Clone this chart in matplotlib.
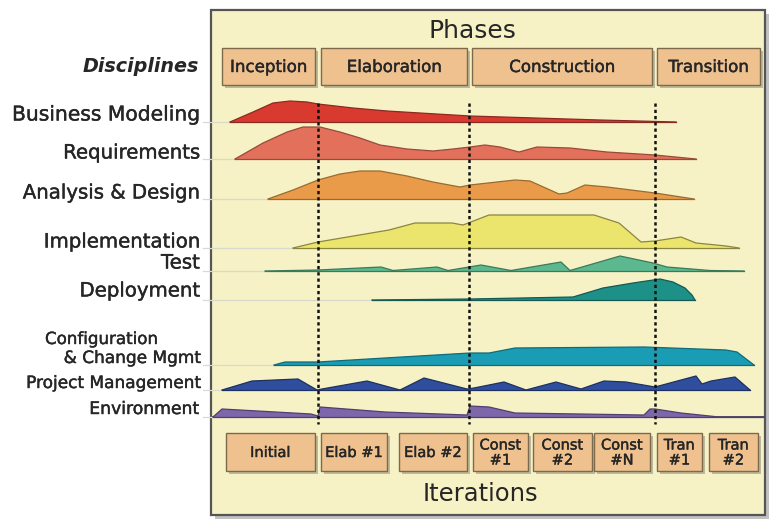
import matplotlib
matplotlib.use("Agg")
import matplotlib.pyplot as plt
from matplotlib.patches import Rectangle
import matplotlib.patheffects as pe

# ---------------- data ----------------
disciplines = ["Business Modeling", "Requirements", "Analysis & Design",
               "Implementation", "Test", "Deployment",
               "Configuration & Change Mgmt", "Project Management", "Environment"]

# effort profiles: time (timeline units) and effort (relative height)
bm_t = [15, 38, 58, 75, 92, 103, 138, 172, 205, 255, 385, 461]
bm_e = [0, 10, 19, 21, 20, 18, 14, 11, 9, 6, 2, 0]

req_t = [20, 48, 72, 88, 105, 125, 145, 165, 192, 218, 238, 255, 270, 285, 304, 322,
         355, 392, 440, 481]
req_e = [0, 16, 27, 32, 32, 27, 21, 14, 10, 8, 10, 12, 14, 12, 7, 12, 11, 7, 4, 0]

ad_t = [53, 78, 103, 125, 145, 165, 192, 218, 245, 255, 300, 315, 344, 352, 370, 392,
        440, 479]
ad_e = [0, 9, 19, 25, 28, 28, 23, 17, 12, 14, 19, 18, 5, 6, 14, 12, 6, 0]

impl_t = [78, 103, 174, 200, 237, 248, 274, 379, 404, 426, 440, 466, 481, 511, 524]
impl_e = [0, 6, 18, 25, 25, 23, 33, 33, 25, 6, 7, 11, 5, 2, 0]

test_t = [50, 103, 166, 178, 222, 233, 266, 296, 346, 355, 405, 438, 452, 495, 529]
test_e = [0, 1, 4, 0.5, 4, 0.5, 6, 0.5, 9, 0.5, 15, 8, 4, 0.5, 0]

dep_t = [157, 255, 358, 388, 418, 445, 458, 470, 477, 480]
dep_e = [0, 1, 3, 12, 17, 21, 18, 12, 5, 0]

cfg_t = [59, 70, 103, 170, 255, 274, 300, 429, 511, 522, 539]
cfg_e = [0, 3, 3, 7, 12, 12, 17, 18, 15, 13, 0]

pm_t = [7, 37, 83, 102, 107, 152, 185, 209, 252, 259, 289, 311, 341, 366, 389, 411,
        440, 481, 487, 496, 520, 535]
pm_e = [0, 9, 11, 0, 1, 9, 0, 12, 1, 2, 8, 0, 8, 1, 9, 8, 3, 14, 6, 9, 13, 0]

env_t = [-2, 7, 96, 103, 105, 170, 252, 255, 274, 300, 429, 435, 440, 466, 504, 550]
env_e = [0, 8, 3, 1, 10, 5, 2, 11, 10, 4, 2, 8, 8, 4, 0, 0]

series_t = [bm_t, req_t, ad_t, impl_t, test_t, dep_t, cfg_t, pm_t, env_t]
series_e = [bm_e, req_e, ad_e, impl_e, test_e, dep_e, cfg_e, pm_e, env_e]

phases = ["Inception", "Elaboration", "Construction", "Transition"]
phase_boundaries = [103, 254, 440]
iterations = ["Initial", "Elab #1", "Elab #2", "Const\n#1", "Const\n#2", "Const\n#N",
              "Tran\n#1", "Tran\n#2"]

# ---------------- styles / layout ----------------
fills = ["#d93a2f", "#e2705a", "#e99b4a", "#ece56d", "#5cb88e", "#1d9088",
         "#1a9db4", "#2f4f9e", "#7e66ab"]
edges = ["#8a2a22", "#9a4a3a", "#9a6a30", "#8a8640", "#3a7a5a", "#135a55",
         "#106a7a", "#1d3060", "#4e3f70"]
baselines = [122, 159, 199, 248, 271, 300, 365, 390, 417]
label_y = [115, 153, 193, 242, 263, 291, None, 383, 409]
label_fs = [14.6, 14.2, 14.2, 14.2, 14.2, 14.2, None, 12.2, 12.4]

panel_bg = "#f6f2c6"
box_fc = "#efc18f"
box_ec = "#7d6a4c"
txt = "#262626"
semi = [pe.withStroke(linewidth=0.3, foreground=txt)]

W, H = 782, 531
fig = plt.figure(figsize=(W / 100, H / 100), dpi=100)
fig.patch.set_facecolor("white")

ax = fig.add_axes([0, 0, 1, 1])
ax.set_xlim(0, W)
ax.set_ylim(H, 0)
ax.axis("off")

# panel with shadow
ax.add_patch(Rectangle((215, 14), 554, 505, fc="#9a9a9a", ec="none", alpha=0.6, zorder=0))
ax.add_patch(Rectangle((211, 10), 554, 505, fc=panel_bg, ec="#555555", lw=1.6, zorder=1))
ax.plot([211, 765], [417, 417], color="#555555", lw=1.3, zorder=1)

def box(x0, x1, y0, y1, label, fs):
    ax.add_patch(Rectangle((x0 + 3, y0 + 3), x1 - x0, y1 - y0, fc="#8c8c7a",
                           ec="none", alpha=0.55, zorder=2))
    ax.add_patch(Rectangle((x0, y0), x1 - x0, y1 - y0, fc=box_fc, ec=box_ec,
                           lw=1.0, zorder=3))
    ax.text((x0 + x1) / 2, (y0 + y1) / 2 + 0.5, label, ha="center", va="center",
            fontsize=fs, color=txt, zorder=4, linespacing=1.0, path_effects=semi)

phase_boxes = [(222, 315), (321, 467), (472, 652), (657, 760)]
for (x0, x1), name in zip(phase_boxes, phases):
    box(x0, x1, 48, 85, name, 12)

iter_boxes = [(226, 315), (321, 387), (399, 467), (473, 528), (533, 592), (594, 650),
              (657, 702), (709, 758)]
for (x0, x1), name in zip(iter_boxes, iterations):
    box(x0, x1, 433, 471, name, 10.5)

ax.text(472, 31, "Phases", ha="center", va="center", fontsize=18, color=txt)
ax.text(480, 494, "Iterations", ha="center", va="center", fontsize=17.5, color=txt)

# discipline labels
ax.text(199, 67, "Disciplines", ha="right", va="center", fontsize=13.8,
        fontweight="bold", fontstyle="italic", color=txt)
for name, y, fs in zip(disciplines, label_y, label_fs):
    if y is None:
        continue
    ax.text(200, y, name, ha="right", va="center", fontsize=fs, color=txt,
            path_effects=semi)
ax.text(45, 339, "Configuration", ha="left", va="center", fontsize=12, color=txt,
        path_effects=semi)
ax.text(200, 358, "& Change Mgmt", ha="right", va="center", fontsize=12.2, color=txt,
        path_effects=semi)

# faint guide lines from labels
for b, t in zip(baselines, series_t):
    ax.plot([203, 215 + t[0]], [b, b], color="#d9d9cc", lw=0.9, zorder=1)

# humps axes: timeline units
axh = fig.add_axes([200 / W, 0, 565 / W, 1])
axh.set_xlim(-15, 550)
axh.set_ylim(H, 0)
axh.axis("off")
axh.patch.set_alpha(0)

for t, e, b, fc, ec in zip(series_t, series_e, baselines, fills, edges):
    yy = [b - v for v in e]
    axh.fill_between(t, yy, b, facecolor=fc, edgecolor="none", zorder=2)
    axh.plot(t, yy, color=ec, lw=0.9, zorder=3)
    axh.plot([t[0], t[-1]], [b, b], color=ec, lw=0.9, zorder=3)

axh.vlines(phase_boundaries, 103, 424, colors="#111111", lw=1.8,
           linestyles=(0, (1.3, 1.2)), zorder=5)

fig.savefig("out.png", dpi=100)
